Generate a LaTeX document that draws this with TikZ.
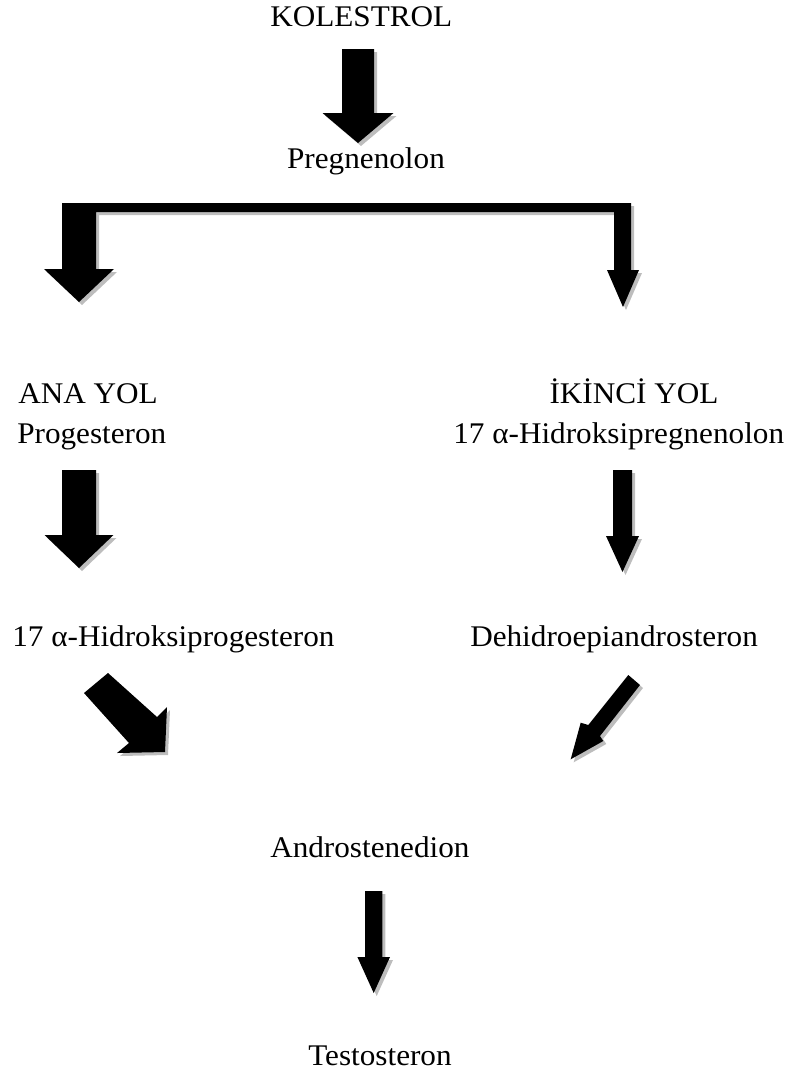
\documentclass[tikz,border=0pt]{standalone}
\usepackage{fontspec}
\setmainfont{Liberation Serif}[FakeStretch=1.04]
\newcommand\vblockarrow[6]{% x, ytop, shaft half width, head base y, head half width, tip y
  \foreach \st in {bshadow,barrow}{
    \fill[\st] (#1-#3,#2) -- (#1+#3,#2) -- (#1+#3,#4) -- (#1+#5,#4) -- (#1,#6)
      -- (#1-#5,#4) -- (#1-#3,#4) -- cycle;}}
\begin{document}
\begin{tikzpicture}[x=0.75pt,y=-0.75pt,
  lbl/.style={inner sep=0pt, font=\fontsize{22.5}{25}\selectfont},
  barrow/.style={fill=black},
  bshadow/.style={fill=black!26, shift={(3,3)}}]
\useasboundingbox (0,0) rectangle (793,1072);

% labels
\node[lbl,anchor=base west] (kol)   at (270,26)   {KOLESTROL};
\node[lbl,anchor=base]      (preg)  at (366,168)  {Pregnenolon};
\node[lbl,anchor=base west] (ana)   at (18,403)   {ANA YOL};
\node[lbl,anchor=base]      (iki)   at (634,403)  {İKİNCİ YOL};
\node[lbl,anchor=base west] (prog)  at (17,443)   {Progesteron};
\node[lbl,anchor=base west] (hpreg) at (453,443)  {17 α-Hidroksipregnenolon};
\node[lbl,anchor=base west] (hprog) at (12,646)   {17 α-Hidroksiprogesteron};
\node[lbl,anchor=base west] (dhea)  at (470,646)  {Dehidroepiandrosteron};
\node[lbl,anchor=base west] (andro) at (270,857)  {Androstenedion};
\node[lbl,anchor=base west] (testo) at (308,1065) {Testosteron};

% KOLESTROL -> Pregnenolon
\vblockarrow{358}{49}{16}{113}{35.5}{143}

% branch arrow
\foreach \st in {bshadow,barrow}{
  \fill[\st] (62,203) -- (631,203) -- (631,270) -- (639,270) -- (623,307)
    -- (607,270) -- (614,270) -- (614,212) -- (96,212) -- (96,269)
    -- (114,269) -- (79,302) -- (44,269) -- (62,269) -- cycle;}

% Progesteron -> 17 a-Hidroksiprogesteron
\vblockarrow{79}{470}{17}{535}{34.5}{568}
% 17 a-Hidroksipregnenolon -> Dehidroepiandrosteron
\vblockarrow{622.5}{470}{9.5}{536}{16.5}{572}

% diagonal arrows
\foreach \st in {bshadow,barrow}{
  \fill[\st] (84,693) -- (108,673) -- (157,717) -- (167,707) -- (165,752)
    -- (117,753) -- (129,743) -- cycle;
  \fill[\st] (628.3,675) -- (640,685) -- (600,736) -- (603.3,741)
    -- (570.7,759.3) -- (580.7,722.7) -- (588.3,725) -- cycle;}

% Androstenedion -> Testosteron
\vblockarrow{373.7}{891}{8.7}{957}{16.3}{993}
\end{tikzpicture}
\end{document}
